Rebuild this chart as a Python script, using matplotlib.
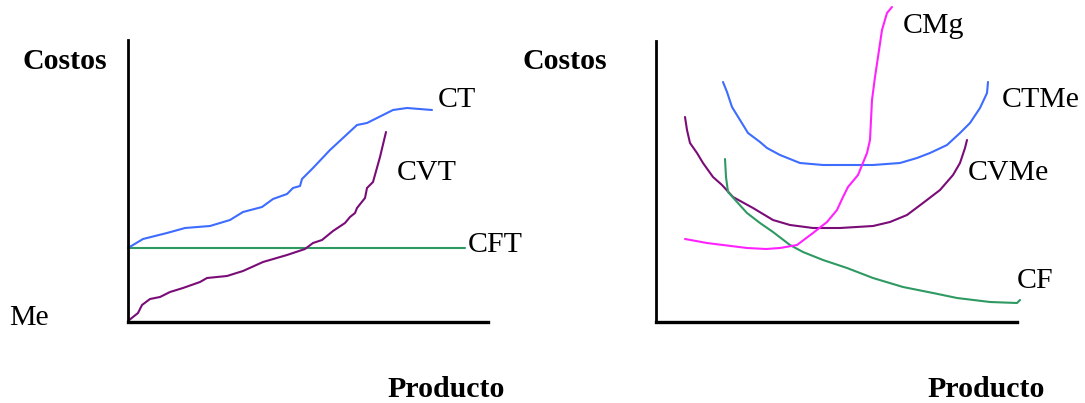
import matplotlib
matplotlib.use("Agg")
import matplotlib.pyplot as plt

W, H = 1085, 403

# ---- Left panel data (Producto vs Costos) ----
ct_x = [0, 15, 39, 57, 82, 102, 115, 134, 145, 159, 165, 172, 174, 185, 202, 229, 239, 265, 279, 304]
ct_y = [74, 83, 89, 94, 96, 102, 110, 115, 123, 128, 134, 136, 143, 154, 172, 197, 199, 212, 214, 212]
cvt_x = [0, 10, 14, 22, 32, 42, 55, 72, 79, 99, 115, 135, 159, 177, 185, 194, 205, 217, 222, 227, 229, 237, 239, 245, 252, 258]
cvt_y = [1, 9, 17, 23, 25, 30, 34, 40, 44, 46, 51, 60, 67, 73, 79, 82, 91, 99, 105, 109, 114, 124, 134, 140, 165, 190]
cft_x = [0, 337]
cft_y = [74, 74]

# ---- Right panel data (unit costs) ----
cmg_x = [29, 51, 91, 110, 124, 141, 157, 171, 181, 187, 192, 202, 211, 214, 216, 219, 222, 226, 231, 236]
cmg_y = [83, 79, 74, 73, 74, 77, 89, 100, 112, 125, 135, 147, 169, 182, 222, 245, 265, 292, 309, 315]
ctme_x = [67, 71, 76, 84, 92, 104, 111, 124, 144, 167, 217, 244, 261, 274, 291, 304, 314, 324, 331, 332]
ctme_y = [240, 230, 215, 202, 189, 180, 174, 167, 159, 157, 157, 159, 164, 169, 177, 189, 199, 214, 229, 240]
cvme_x = [29, 31, 34, 41, 47, 57, 66, 77, 97, 117, 134, 157, 184, 217, 234, 251, 267, 284, 297, 304, 309, 311]
cvme_y = [205, 192, 179, 169, 159, 145, 137, 125, 114, 102, 97, 94, 94, 96, 100, 107, 119, 132, 147, 159, 174, 182]
cf_x = [69, 70, 72, 81, 91, 104, 117, 134, 147, 167, 191, 217, 247, 277, 301, 334, 361, 364]
cf_y = [163, 145, 130, 120, 109, 99, 90, 77, 70, 62, 54, 44, 35, 29, 24, 20, 19, 22]

left_labels = ["CT", "CVT", "CFT"]
right_labels = ["CMg", "CTMe", "CVMe", "CF"]

BLUE = "#3d6cff"
PURPLE = "#7a0c78"
GREEN = "#2e9a62"
MAGENTA = "#ff22ff"

serif = ["Liberation Serif", "DejaVu Serif"]
FS = 21.5

fig = plt.figure(figsize=(W / 100, H / 100), dpi=100)
fig.patch.set_facecolor("white")

def make_ax(x0, x1, spine_top):
    ax = fig.add_axes([x0 / W, (H - 322) / H, (x1 - x0) / W, 322 / H])
    ax.set_xlim(0, x1 - x0)
    ax.set_ylim(0, 322)
    for s in ["top", "right"]:
        ax.spines[s].set_visible(False)
    ax.spines["left"].set_bounds(0, spine_top)
    ax.spines["left"].set_linewidth(2)
    ax.spines["bottom"].set_linewidth(2.4)
    ax.set_xticks([])
    ax.set_yticks([])
    ax.patch.set_alpha(0)
    return ax

axL = make_ax(128, 488, 282)
axR = make_ax(656, 1017, 281)

kw = dict(lw=1.5, solid_capstyle="round", solid_joinstyle="round", clip_on=False)
axL.plot(cft_x, cft_y, color=GREEN, **kw)
axL.plot(ct_x, ct_y, color=BLUE, **kw)
axL.plot(cvt_x, cvt_y, color=PURPLE, **kw)

axR.plot(ctme_x, ctme_y, color=BLUE, **kw)
axR.plot(cvme_x, cvme_y, color=PURPLE, **kw)
axR.plot(cf_x, cf_y, color=GREEN, **kw)
axR.plot(cmg_x, cmg_y, color=MAGENTA, **kw)

tk = dict(fontsize=FS, family=serif, va="baseline", ha="left", clip_on=False)
axL.text(310, 215, left_labels[0], **tk)
axL.text(269, 142, left_labels[1], **tk)
axL.text(340, 70, left_labels[2], **tk)

axR.text(247, 289, right_labels[0], **tk)
axR.text(346, 215, right_labels[1], **tk)
axR.text(312, 142, right_labels[2], **tk)
axR.text(361, 34, right_labels[3], **tk)

def ftext(x, y, s, bold=False):
    fig.text(x / W, 1 - y / H, s, fontsize=FS, family=serif,
             fontweight="bold" if bold else "normal", va="baseline", ha="left")

ftext(22, 69, "Costos", bold=True)
ftext(523, 69, "Costos", bold=True)
ftext(9, 325, "Me")
ftext(387, 397, "Producto", bold=True)
ftext(927, 397, "Producto", bold=True)

fig.savefig("out.png", dpi=100, facecolor="white")
